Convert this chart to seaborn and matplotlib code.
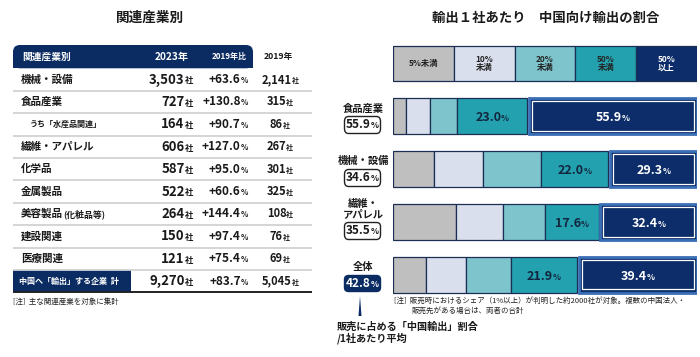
import numpy as np
import seaborn as sns
import matplotlib.pyplot as plt
from matplotlib.patches import FancyBboxPatch, Rectangle
from matplotlib.offsetbox import TextArea, HPacker, AnnotationBbox
from matplotlib.transforms import blended_transform_factory

# --- left table: companies exporting to China, by industry ---
industries = ['機械・設備', '食品産業', 'うち「水産品関連」', '繊維・アパレル', '化学品',
              '金属製品', '美容製品', '建設関連', '医療関連']
firms_2023 = [3503, 727, 164, 606, 587, 522, 264, 150, 121]
growth_vs_2019 = [63.6, 130.8, 90.7, 127.0, 95.0, 60.6, 144.4, 97.4, 75.4]
firms_2019 = [2141, 315, 86, 267, 301, 325, 108, 76, 69]
total_label = '中国へ「輸出」する企業  計'
total_2023 = 9270
total_growth = 83.7
total_2019 = 5045

# --- right chart: share of China exports per company ---
band_names = ['5%未満', '10%\n未満', '20%\n未満', '50%\n未満', '50%\n以上']
groups = ['食品産業', '機械・設備', '繊維・\nアパレル', '全体']
avg_share = [55.9, 34.6, 35.5, 42.8]
share_lt5 = [4.2, 13.4, 20.6, 10.7]
share_lt10 = [8.0, 16.3, 15.5, 13.3]
share_lt20 = [8.9, 19.0, 13.9, 14.7]
share_lt50 = [23.0, 22.0, 17.6, 21.9]
share_ge50 = [55.9, 29.3, 32.4, 39.4]

sns.set_theme(style='white')
plt.rcParams['font.family'] = ['Noto Sans CJK JP', 'DejaVu Sans']

NAVY = '#0b2c62'
EDGE = '#1b2f55'
band_colors = sns.color_palette(['#bfbfbf', '#d9dfed', '#7dc4cc', '#23a1ae', '#0c2d69'])


def mixed(ax, x, y, parts, align='left', frame=None, transform=None, weight='bold'):
    # text made of parts with different sizes, sitting on one baseline
    boxes = [TextArea(t, textprops=dict(size=s, color=c, weight=weight)) for t, s, c in parts]
    pack = HPacker(children=boxes, align='baseline', pad=0, sep=0)
    ha = {'left': 0, 'center': 0.5, 'right': 1}[align]
    ab = AnnotationBbox(pack, (x, y), xycoords=transform or ax.transData,
                        box_alignment=(ha, 0.5), frameon=frame is not None,
                        pad=0.25, bboxprops=frame, zorder=6, annotation_clip=False)
    ax.add_artist(ab)


fig = plt.figure(figsize=(7, 3.57), dpi=100)
bg = fig.add_axes([0, 0, 1, 1])
bg.set_xlim(0, 700)
bg.set_ylim(357, 0)
bg.axis('off')

# titles
bg.text(150, 17.5, '関連産業別', ha='center', va='center', size=9.8, weight='bold', color='#1a1a1a')
bg.text(546, 17.5, '輸出１社あたり　中国向け輸出の割合', ha='center', va='center', size=9.6,
        weight='bold', color='#1a1a1a')

# --- table ---
x0, x1 = 13, 312
head_top, head_bot = 45, 68.3
row_h = 22.4
bg.add_patch(FancyBboxPatch((x0, head_top), 240, head_bot - head_top,
                            boxstyle='round,pad=0,rounding_size=7', fc=NAVY, ec='none'))
bg.add_patch(Rectangle((x0, head_top + 10), 240, head_bot - head_top - 10, fc=NAVY, ec='none'))
hy = (head_top + head_bot) / 2
bg.text(22, hy, '関連産業別', ha='left', va='center', size=7, weight='bold', color='white')
bg.text(172, hy, '2023年', ha='center', va='center', size=7.3, weight='bold', color='white')
bg.text(229, hy, '2019年比', ha='center', va='center', size=5.8, weight='bold', color='white')
bg.text(278, hy, '2019年', ha='center', va='center', size=6.2, weight='bold', color='#1a1a1a')

for i, name in enumerate(industries):
    y = head_bot + (i + 0.5) * row_h
    if name.startswith('うち'):
        bg.text(30, y, name, ha='left', va='center', size=5.8, weight='bold', color='#1a1a1a')
    elif name == '美容製品':
        mixed(bg, 21, y, [(name, 7.6, '#1a1a1a'), ('(化粧品等)', 6.4, '#1a1a1a')], 'left')
    else:
        bg.text(21, y, name, ha='left', va='center', size=7.6, weight='bold', color='#1a1a1a')
    mixed(bg, 193, y, [(f'{firms_2023[i]:,}', 9.5, '#1a1a1a'), ('社', 6, '#1a1a1a')], 'right')
    mixed(bg, 248, y, [(f'+{growth_vs_2019[i]:.1f}', 8.5, '#1a1a1a'), ('%', 5.5, '#1a1a1a')], 'right')
    mixed(bg, 280, y, [(f'{firms_2019[i]:,}', 8, '#1a1a1a'), ('社', 5, '#1a1a1a')], 'center')
    line_y = head_bot + (i + 1) * row_h
    bg.plot([x0, x1], [line_y, line_y], color='#d2d2d2', lw=1.3, solid_capstyle='butt')

ty = head_bot + 9.5 * row_h
bg.add_patch(Rectangle((x0, head_bot + 9 * row_h), 118, row_h, fc=NAVY, ec='none'))
bg.text(19, ty, total_label, ha='left', va='center', size=5.8, weight='bold', color='white')
mixed(bg, 193, ty, [(f'{total_2023:,}', 9.5, '#1a1a1a'), ('社', 6, '#1a1a1a')], 'right')
mixed(bg, 248, ty, [(f'+{total_growth:.1f}', 8.5, '#1a1a1a'), ('%', 5.5, '#1a1a1a')], 'right')
mixed(bg, 280, ty, [(f'{total_2019:,}', 8, '#1a1a1a'), ('社', 5, '#1a1a1a')], 'center')
bottom = head_bot + 10 * row_h
bg.plot([x0, x1], [bottom, bottom], color='#222222', lw=1.4, solid_capstyle='butt')
bg.text(x0, 302, '[注]  主な関連産業を対象に集計', ha='left', va='center', size=5.4, color='#222222')

# --- stacked share bars ---
ax = fig.add_axes([393 / 700, 1 - 301 / 357, 304 / 700, 264 / 357])
ax.set_xlim(0, 100)
ax.set_ylim(4.5, -0.5)
ax.axis('off')
ax.patch.set_alpha(0)

bar_h = 0.68
# legend strip
n_bands = len(band_names)
leg_w = np.full(n_bands, 100 / n_bands)
leg_left = np.concatenate([[0], np.cumsum(leg_w)[:-1]])
ax.barh(np.zeros(n_bands), leg_w, left=leg_left, height=0.66, color=band_colors,
        edgecolor=EDGE, linewidth=0.9)
for k, name in enumerate(band_names):
    ax.text(leg_left[k] + leg_w[k] / 2, 0, name, ha='center', va='center', size=6,
            weight='bold', linespacing=0.95,
            color='white' if k == n_bands - 1 else '#222222')

shares = np.array([share_lt5, share_lt10, share_lt20, share_lt50, share_ge50]).T
rows = np.arange(1, len(groups) + 1)
left = np.zeros(len(groups))
gap, inset_x, inset_y = 0.6, 1.0, 0.06
for k in range(n_bands):
    w = shares[:, k]
    if k < n_bands - 1:
        ax.barh(rows, w, left=left, height=bar_h, color=band_colors[k],
                edgecolor=EDGE, linewidth=0.9)
    else:
        ax.barh(rows, w - gap, left=left + gap, height=bar_h, color=band_colors[k],
                edgecolor='#3b6fb6', linewidth=2)
        ax.barh(rows, w - gap - 2 * inset_x, left=left + gap + inset_x,
                height=bar_h - 2 * inset_y, color='none', edgecolor='white', linewidth=0.9)
    if k >= 3:
        col = 'white' if k == n_bands - 1 else '#13263f'
        for r, (l, v) in enumerate(zip(left, w)):
            mixed(ax, l + v / 2 + (gap / 2 if k == 4 else 0), rows[r] + 0.03,
                  [(f'{v:.1f}', 9, col), ('%', 6, col)], 'center')
    left += w

# row labels and average-share badges
lab_tr = blended_transform_factory(bg.transData, ax.transData)
for r, g in enumerate(groups):
    ax.text(363, rows[r] - 0.05, g, transform=lab_tr, ha='center', va='bottom', size=7.4,
            weight='bold', linespacing=1.0, color='#1a1a1a')
    if g == '全体':
        frame = dict(boxstyle='round,pad=0.12,rounding_size=0.3', fc=NAVY, ec=NAVY, lw=1)
        col = 'white'
    else:
        frame = dict(boxstyle='round,pad=0.12,rounding_size=0.3', fc='white', ec='#222222', lw=1)
        col = '#1a1a1a'
    mixed(ax, 362, rows[r] + 0.16, [(f'{avg_share[r]:.1f}', 8.5, col), ('%', 6, col)],
          'center', frame=frame, transform=lab_tr)

# pointer and caption under the overall badge
bg.fill([358.5, 361.5, 360], [316, 316, 296], color=NAVY, lw=0)
bg.text(337, 327, '販売に占める「中国輸出」割合', ha='left', va='center', size=7.3,
        weight='bold', color='#1a1a1a')
bg.text(337, 338.5, '/1社あたり平均', ha='left', va='center', size=7.3, weight='bold', color='#1a1a1a')
bg.text(394, 301, '[注]  販売時におけるシェア（1%以上）が判明した約2000社が対象。複数の中国法人・',
        ha='left', va='center', size=5.4, color='#222222')
bg.text(412, 311, '販売先がある場合は、両者の合計', ha='left', va='center', size=5.4, color='#222222')

fig.savefig('out.png', dpi=100)
